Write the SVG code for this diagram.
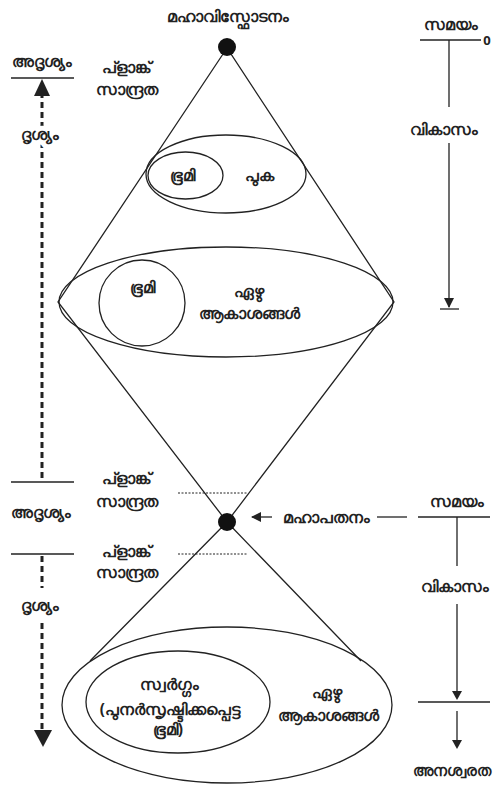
<svg xmlns="http://www.w3.org/2000/svg" width="493" height="787" viewBox="0 0 493 787">
<style>
text{font-family:"Noto Sans","DejaVu Sans",sans-serif;font-size:15.5px;font-weight:bold;fill:#222;text-anchor:middle}
.ln{stroke:#222;stroke-width:1.3;fill:none}
.dash{stroke:#222;stroke-width:3;stroke-dasharray:6,4;fill:none}
.dot{stroke:#222;stroke-width:1;stroke-dasharray:2,1.5;fill:none}
</style>
<defs>
<marker id="ah" markerWidth="10" markerHeight="10" refX="9" refY="5" orient="auto" markerUnits="userSpaceOnUse"><path d="M0,0 L10,5 L0,10 Z" fill="#222"/></marker>
</defs>
<rect width="493" height="787" fill="#fff"/>
<g id="connectors">
<path class="ln" d="M227,48 L58,302 L227,522 L394,302 Z"/>
<path class="ln" d="M227,522 L90,661 M227,522 L361,661"/>
<path class="dot" d="M178,493 H248 M178,554 H248"/>
<path class="ln" d="M272,517 H252" marker-end="url(#ah)"/>
<path class="ln" d="M377,517 H407"/>
</g>
<g id="bigbang"><circle cx="227" cy="47" r="9" fill="#111"/><text x="228" y="22">മഹാവിസ്ഫോടനം</text></g>
<g id="bigcrunch"><circle cx="227" cy="522" r="9" fill="#111"/></g>
<g id="mahapathanam"><text x="326" y="523">മഹാപതനം</text></g>
<g id="planck1"><text x="126" y="73">പ്ളാങ്ക്</text><text x="127" y="95">സാന്ദ്രത</text></g>
<g id="planck2"><text x="126" y="484">പ്ളാങ്ക്</text><text x="127" y="507">സാന്ദ്രത</text></g>
<g id="planck3"><text x="126" y="557">പ്ളാങ്ക്</text><text x="127" y="578">സാന്ദ്രത</text></g>
<g id="smoke">
<ellipse class="ln" cx="226" cy="174" rx="80" ry="39"/>
<text x="259" y="181">പുക</text>
</g>
<g id="earth1"><ellipse class="ln" cx="185.5" cy="175.5" rx="37.5" ry="23.5"/><text x="182" y="181">ഭൂമി</text></g>
<g id="skies1">
<ellipse class="ln" cx="226" cy="302" rx="167" ry="55"/>
<text x="249" y="297">ഏഴു</text><text x="249" y="319">ആകാശങ്ങൾ</text>
</g>
<g id="earth2"><circle class="ln" cx="142" cy="303" r="43"/><text x="142" y="293">ഭൂമി</text></g>
<g id="skies2">
<ellipse class="ln" cx="227" cy="705" rx="165" ry="78"/>
<text x="327" y="698">ഏഴു</text><text x="328" y="721">ആകാശങ്ങൾ</text>
</g>
<g id="heaven">
<ellipse class="ln" cx="178" cy="702" rx="92" ry="51"/>
<text x="169" y="690">സ്വർഗ്ഗം</text><text x="170" y="715">(പുനർസൃഷ്ടിക്കപ്പെട്ട</text><text x="168" y="735">ഭൂമി)</text>
</g>
<g id="leftaxis">
<text x="42" y="67">അദൃശ്യം</text>
<path class="ln" d="M11,78 H74"/>
<path class="dash" d="M42,478 V96"/>
<path d="M34,96 L42,79 L50,96 Z" fill="#222"/>
<text x="40" y="140" fill="#fff" stroke="#fff" stroke-width="10">ദൃശ്യം</text>
<text x="40" y="140">ദൃശ്യം</text>
<path class="ln" d="M11,482 H74"/>
<text x="41" y="518">അദൃശ്യം</text>
<path class="ln" d="M11,554 H74"/>
<path class="dash" d="M42,556 V588"/>
<text x="40" y="611">ദൃശ്യം</text>
<path class="dash" d="M42,623 V731"/>
<path d="M34,730 L43,747 L52,730 Z" fill="#222"/>
</g>
<g id="timeaxis1">
<text x="451" y="30">സമയം</text>
<path class="ln" d="M420,40 H481"/>
<text x="487" y="45" style="font-size:13px">0</text>
<path class="ln" d="M449,40 V107 M449,143 V307"/>
<path d="M444,298 L449,308 L454,298 Z" fill="#222"/>
<path class="ln" d="M440,309 H459"/>
<text x="444" y="135">വികാസം</text>
</g>
<g id="timeaxis2">
<text x="457" y="507">സമയം</text>
<path class="ln" d="M418,517 H490"/>
<path class="ln" d="M457,517 V566"/>
<text x="455" y="592">വികാസം</text>
<path class="ln" d="M457,604 V693"/>
<path d="M452,691 L457,700 L462,691 Z" fill="#222"/>
<path class="ln" d="M418,702 H490"/>
<path class="ln" d="M457,711 V741"/>
<path d="M452,740 L457,749 L462,740 Z" fill="#222"/>
<text x="452" y="776" style="font-size:14.5px">അനശ്വരത</text>
</g>
</svg>
